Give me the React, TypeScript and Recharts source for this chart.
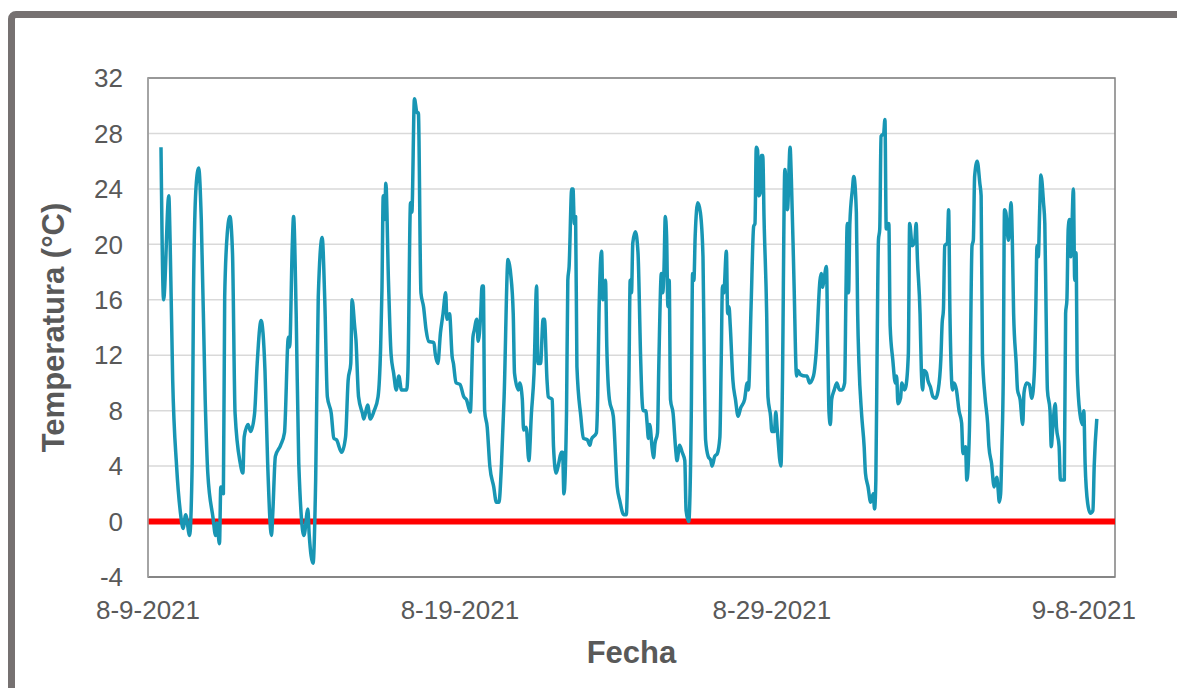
import React from 'react';
import { LineChart, Line, XAxis, YAxis, CartesianGrid, ReferenceLine, ReferenceArea, Label } from 'recharts';

// readings: [hours since 8-9-2021 00:00, temperature °C]
const fromAug09: [number, number][] = [
  [10, 27.0], [12, 16.0], [16, 23.5], [17, 20.3], [19, 10.2], [22, 4.0], [25, 0.6], [27, -0.5], [29, 0.5],
  [32, -1.0], [34, 4.2], [35, 16.5], [37, 24.2], [39, 25.5], [41, 21.8], [44, 8.8], [46, 3.5], [50, 0.3],
  [52, -1.0], [53, -0.1], [55, -1.6], [56, 2.5], [58, 2.0], [59, 16.2], [61, 20.8], [63, 22.0], [65, 19.4],
  [67, 7.8], [71, 4.2], [73, 3.5], [74, 6.1], [77, 7.0], [79, 6.5], [82, 7.8], [84, 11.4], [87, 14.5],
  [90, 10.9], [92, 4.4], [95, -1.0], [96, 0.6], [98, 4.7], [102, 5.5], [105, 6.4], [108, 13.3], [109, 12.6],
  [111, 19.9], [112, 22.0], [114, 15.0], [116, 4.2],
];

const fromAug14: [number, number][] = [
  [120, -1.0], [123, 0.9], [124, -0.9], [127, -3.0], [129, 3.0], [131, 16.2], [134, 20.5], [136, 16.0],
  [138, 9.0], [141, 7.8], [143, 6.0], [145, 5.9], [149, 5.0], [152, 6.1], [154, 10.2], [156, 11.4],
  [157, 16.0], [159, 14.1], [160, 13.1], [162, 9.0], [165, 7.8], [166, 7.4], [169, 8.4], [171, 7.4],
  [174, 8.0], [177, 9.0], [179, 12.6], [180, 16.7], [181, 23.5], [182, 21.8], [183, 24.4], [185, 17.4],
  [187, 12.1], [189, 10.7], [191, 9.5], [193, 10.5], [195, 9.5], [199, 9.5], [200, 10.9], [202, 23.0],
  [203, 22.3], [205, 30.5], [207, 29.5], [208, 29.5], [210, 16.5], [212, 15.5], [214, 13.8], [216, 13.0],
  [220, 12.9], [221, 12.1], [223, 11.4], [225, 13.6], [227, 15.0], [229, 16.5], [230, 14.6], [232, 15.0],
  [234, 11.9], [235, 11.4], [237, 10.0], [240, 9.9], [243, 9.0],
];

const fromAug19: [number, number][] = [
  [245, 8.8], [248, 7.9], [250, 13.3], [251, 13.8], [253, 14.6], [254, 13.0], [256, 15.0], [257, 17.0],
  [258, 17.0], [259, 8.0], [261, 6.8], [263, 4.0], [266, 2.5], [268, 1.4], [270, 1.4], [272, 4.2],
  [274, 9.0], [277, 18.9], [279, 17.9], [281, 15.0], [282, 10.7], [285, 9.5], [286, 10.0], [288, 8.8],
  [289, 6.6], [291, 6.8], [293, 4.4], [295, 7.8], [297, 10.7], [299, 17.0], [300, 11.4], [302, 11.4],
  [304, 14.6], [305, 14.6], [307, 10.2], [308, 9.0], [311, 8.8], [312, 5.4], [314, 3.5], [316, 4.2],
  [318, 5.0], [319, 5.0], [320, 2.0], [322, 7.8], [323, 17.4], [324, 18.4], [326, 24.0], [327, 24.0],
  [328, 21.5], [329, 22.0], [330, 11.2], [333, 7.6], [335, 6.0], [338, 5.9], [340, 5.5], [341, 5.9],
  [345, 6.4], [346, 9.0], [347, 15.0], [349, 19.5], [350, 16.0], [352, 17.4], [353, 12.6], [355, 8.8],
  [358, 7.6], [361, 2.5], [363, 1.5], [366, 0.5], [368, 0.5],
];

const fromAug24: [number, number][] = [
  [370, 10.2], [371, 17.4], [372, 16.5], [373, 20.1], [375, 20.9], [377, 19.4], [379, 11.9], [380, 9.0],
  [381, 8.0], [383, 8.0], [384, 7.1], [385, 6.0], [386, 7.0], [388, 5.2], [389, 4.6], [390, 5.6],
  [392, 6.4], [393, 11.2], [395, 17.9], [396, 16.5], [397, 18.2], [398, 22.0], [399, 20.6], [400, 15.5],
  [401, 17.4], [402, 8.8], [404, 7.8], [406, 5.2], [407, 4.4], [409, 5.5], [411, 5.0], [413, 4.4],
  [414, 0.8], [416, 0.0], [418, 7.8], [419, 17.9], [420, 17.4], [421, 20.6], [423, 23.0], [425, 22.3],
  [427, 19.1], [428, 11.4], [429, 5.9], [431, 4.7], [433, 4.4], [434, 4.0], [436, 4.7], [438, 4.9],
  [440, 6.1], [441, 11.4], [442, 17.0], [443, 16.5], [445, 19.5], [446, 15.0], [447, 15.5], [448, 14.1],
  [450, 10.2], [452, 8.8], [454, 7.6], [456, 8.2], [459, 8.8], [461, 10.0], [462, 9.5], [464, 15.5],
  [466, 21.3], [467, 21.5], [468, 27.0], [469, 26.8], [470, 23.5], [471, 23.7], [472, 26.4], [473, 26.4],
  [474, 21.8], [476, 15.0], [477, 9.0], [479, 7.6], [480, 6.5], [482, 6.5], [483, 7.9], [484, 6.8],
  [487, 4.0], [488, 9.0], [490, 25.4], [492, 22.5], [494, 27.0],
];

const fromAug29: [number, number][] = [
  [495, 24.7], [497, 17.4], [499, 10.5], [500, 10.9], [502, 10.6], [506, 10.5], [507, 10.5], [509, 10.0],
  [512, 10.5], [514, 12.1], [517, 17.4], [518, 17.9], [519, 16.9], [520, 17.4], [522, 18.4], [523, 12.6],
  [524, 7.8], [525, 7.0], [526, 8.8], [528, 9.5], [530, 10.0], [532, 9.5], [534, 9.5], [536, 10.0],
  [537, 16.5], [538, 21.5], [539, 16.5], [540, 21.5], [542, 24.0], [543, 24.9], [545, 22.3], [546, 15.0],
  [547, 11.4], [549, 7.8], [551, 5.4], [552, 3.5], [554, 2.5], [556, 1.4], [558, 2.0], [559, 0.9],
  [560, 3.0], [561, 12.6], [562, 20.3], [563, 21.1], [564, 27.8], [566, 28.0], [567, 29.0], [568, 21.1],
  [570, 21.5], [571, 14.1], [573, 11.7], [575, 10.0], [576, 10.5], [577, 8.5], [579, 8.9], [580, 10.0],
  [582, 9.5], [583, 9.7], [585, 12.1], [586, 21.5], [588, 19.9], [590, 20.3], [591, 21.5], [592, 18.9],
  [594, 15.0], [595, 10.9], [596, 9.5], [597, 10.9], [599, 10.7], [600, 10.2], [602, 9.7], [604, 9.0],
  [606, 8.9], [608, 9.5], [610, 11.7], [611, 14.3], [612, 15.3], [613, 19.9], [615, 20.1], [616, 22.5],
];

const fromSep03: [number, number][] = [
  [617, 15.0], [619, 9.5], [620, 10.0], [622, 9.5], [624, 8.0], [626, 7.1], [627, 4.9], [629, 5.4],
  [630, 3.0], [632, 6.6], [634, 19.9], [635, 20.3], [636, 24.9], [638, 26.0], [640, 24.4], [641, 23.5],
  [642, 12.1], [644, 9.0], [646, 7.1], [647, 5.4], [649, 4.2], [651, 2.5], [653, 3.2], [654, 2.4],
  [655, 1.4], [656, 2.0], [657, 5.4], [658, 10.2], [659, 22.5], [660, 22.3], [662, 20.3], [663, 21.5],
  [664, 23.0], [665, 20.3], [666, 15.0], [668, 11.4], [669, 9.5], [671, 8.8], [673, 7.0], [674, 9.3],
  [676, 10.0], [678, 9.9], [680, 8.9], [682, 10.9], [683, 15.0], [684, 19.9], [685, 19.1], [686, 22.3],
  [687, 25.0], [689, 23.0], [690, 21.5], [691, 15.0], [692, 9.5], [694, 8.0], [695, 5.4], [696, 6.6],
  [698, 8.5], [699, 6.8], [701, 5.4], [702, 3.0], [705, 3.0], [706, 15.0], [707, 16.0], [708, 21.1],
  [709, 21.8], [710, 19.1], [712, 24.0], [713, 17.4], [714, 19.4], [715, 10.7], [717, 7.8], [719, 7.0],
  [720, 8.0], [721, 4.2], [723, 1.3], [725, 0.6], [727, 0.8], [728, 4.0], [730, 7.4],
];

const dateTicks = [0, 240, 480, 720];
const dateLabels = ['8-9-2021', '8-19-2021', '8-29-2021', '9-8-2021'];
const hourRange = [0, 744];
const tempTicks = [-4, 0, 4, 8, 12, 16, 20, 24, 28, 32];
const freezing = 0;

const data = [...fromAug09, ...fromAug14, ...fromAug19, ...fromAug24, ...fromAug29, ...fromSep03].map(
  ([h, t]) => ({ h, t })
);

const textGray = '#595959';

export default function App() {
  return (
    <div
      style={{
        position: 'fixed',
        left: 0,
        top: 0,
        width: 1177,
        height: 688,
        overflow: 'hidden',
        background: '#fff',
        fontFamily: '"Liberation Sans", Arial, sans-serif',
      }}
    >
      <div
        style={{
          position: 'absolute',
          left: 8,
          top: 11,
          width: 1220,
          height: 720,
          border: '7px solid #767171',
          borderRadius: 8,
        }}
      />
      <div style={{ position: 'absolute', left: 0, top: 0 }}>
        <LineChart width={1177} height={688} data={data} margin={{ top: 78, right: 62, bottom: 0, left: 0 }}>
          <CartesianGrid vertical={false} stroke="#d9d9d9" strokeWidth={1.5} />
          <XAxis
            dataKey="h"
            type="number"
            domain={hourRange}
            ticks={dateTicks}
            tickFormatter={(v: number) => dateLabels[dateTicks.indexOf(v)] ?? ''}
            height={111}
            tickLine={false}
            tickSize={0}
            tickMargin={24}
            axisLine={{ stroke: '#808080', strokeWidth: 1.5 }}
            tick={{ fill: textGray, fontSize: 26 }}
          >
            <Label
              value="Fecha"
              position="insideBottom"
              offset={25}
              style={{ fill: textGray, fontSize: 31, fontWeight: 700 }}
            />
          </XAxis>
          <YAxis
            type="number"
            domain={[-4, 32]}
            ticks={tempTicks}
            width={148}
            tickLine={false}
            tickSize={0}
            tickMargin={25}
            axisLine={{ stroke: '#a6a6a6', strokeWidth: 1.5 }}
            tick={{ fill: textGray, fontSize: 26 }}
          >
            <Label
              value="Temperatura (°C)"
              angle={-90}
              position="insideLeft"
              offset={53}
              style={{ textAnchor: 'middle', fill: textGray, fontSize: 31, fontWeight: 700 }}
            />
          </YAxis>
          <ReferenceArea
            x1={hourRange[0]}
            x2={hourRange[1]}
            y1={-4}
            y2={32}
            fill="none"
            fillOpacity={0}
            stroke="#808080"
            strokeWidth={1.5}
          />
          <ReferenceLine y={freezing} stroke="#ff0000" strokeWidth={6} />
          <Line
            type="monotoneX"
            dataKey="t"
            stroke="#1896b4"
            strokeWidth={3.5}
            strokeLinejoin="round"
            dot={false}
            activeDot={false}
            isAnimationActive={false}
          />
        </LineChart>
      </div>
    </div>
  );
}
